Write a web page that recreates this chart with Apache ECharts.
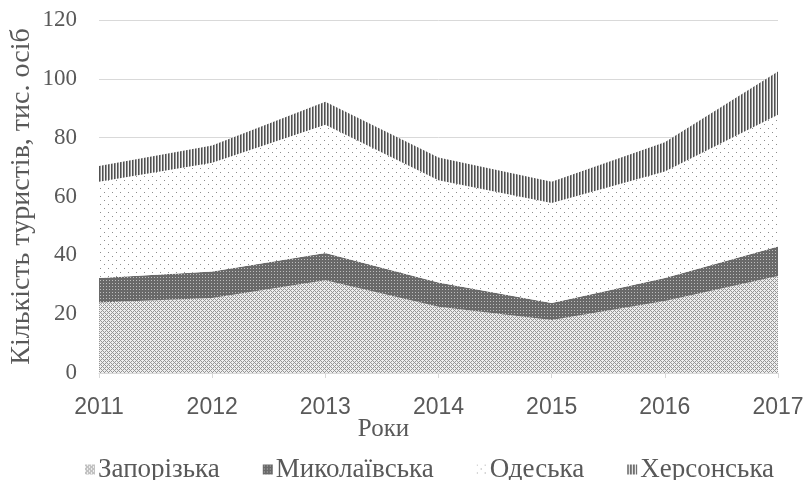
<!DOCTYPE html>
<html>
<head>
<meta charset="utf-8">
<script src="https://cdn.jsdelivr.net/npm/echarts@6/dist/echarts.min.js"></script>
<style>
html,body{margin:0;padding:0;background:#fff;}
#main{width:809px;height:480px;}
</style>
</head>
<body>
<div id="main"></div>
<script>
// ---- data ----
const years = ['2011', '2012', '2013', '2014', '2015', '2016', '2017'];
const zaporizka = [24, 25.5, 31.5, 22.5, 18, 24.5, 33];
const mykolaivska = [8.3, 9, 9.3, 8.3, 5.8, 7.8, 10];
const odeska = [32.7, 37, 43.6, 34.7, 34, 36.2, 44.8];
const khersonska = [5.4, 5.8, 7.8, 7.8, 7.2, 9.9, 14.7];
const seriesNames = ['Запорізька', 'Миколаївська', 'Одеська', 'Херсонська'];
const yTicks = [0, 20, 40, 60, 80, 100, 120];

// ---- pattern fills ----
function makePattern(w, h, fn) {
  const c = document.createElement('canvas');
  c.width = w; c.height = h;
  const ctx = c.getContext('2d');
  const img = ctx.createImageData(w, h);
  for (let y = 0; y < h; y++) {
    for (let x = 0; x < w; x++) {
      const v = fn(x, y);
      const i = (y * w + x) * 4;
      img.data[i] = v; img.data[i + 1] = v; img.data[i + 2] = v; img.data[i + 3] = 255;
    }
  }
  ctx.putImageData(img, 0, 0);
  return { image: c, repeat: 'repeat' };
}
const patZap = makePattern(4, 4, (x, y) => ((x + y) % 4 === 0 || (x - y + 4) % 4 === 0) ? 150 : 238);
const patMyk = makePattern(3, 3, (x, y) => (x === 1 && y === 1) ? 190 : 105);
const patOde = makePattern(8, 8, (x, y) => ((x === 0 && y === 0) || (x === 4 && y === 4)) ? 140 : 255);
const patKhe = makePattern(3, 1, (x) => x === 0 ? 80 : (x === 1 ? 150 : 245));
const patterns = [patZap, patMyk, patOde, patKhe];
const values = [zaporizka, mykolaivska, odeska, khersonska];

const chart = echarts.init(document.getElementById('main'), null, { renderer: 'canvas' });
chart.setOption({
  animation: false,
  backgroundColor: '#fff',
  grid: { left: 99, right: 31, top: 20, bottom: 107, containLabel: false },
  legend: {
    top: 451,
    left: 80,
    icon: 'rect',
    itemWidth: 10,
    itemHeight: 10,
    itemGap: 43,
    textStyle: { fontFamily: 'Liberation Serif', fontSize: 27, color: '#595959', padding: [0, 0, 0, -2] },
    data: seriesNames.map((n, i) => ({ name: n, itemStyle: { color: patterns[i] } }))
  },
  xAxis: {
    type: 'category',
    data: years,
    boundaryGap: false,
    name: 'Роки',
    nameLocation: 'middle',
    nameGap: 44,
    nameMoveOverlap: false,
    nameTextStyle: { fontFamily: 'Liberation Serif', fontSize: 25, color: '#595959', padding: [0, 110, 0, 0] },
    axisLine: { lineStyle: { color: '#d9d9d9', width: 1 } },
    axisTick: { show: true, length: 5, lineStyle: { color: '#d9d9d9' } },
    axisLabel: { fontFamily: 'Liberation Sans', fontSize: 23, color: '#595959', margin: 23 },
    splitLine: { show: false }
  },
  yAxis: {
    type: 'value',
    min: 0,
    max: 120,
    interval: 20,
    name: 'Кількість туристів, тис. осіб',
    nameLocation: 'middle',
    nameGap: 63,
    nameMoveOverlap: false,
    nameTextStyle: { fontFamily: 'Liberation Serif', fontSize: 28, color: '#595959' },
    axisLine: { show: false },
    axisTick: { show: false },
    axisLabel: {
      fontFamily: 'Liberation Serif', fontSize: 23, color: '#595959', margin: 22,
      formatter: v => yTicks.includes(v) ? String(v) : ''
    },
    splitLine: { lineStyle: { color: '#d9d9d9', width: 1 } }
  },
  series: seriesNames.map((n, i) => ({
    name: n,
    type: 'line',
    stack: 'total',
    data: values[i],
    symbol: 'none',
    showSymbol: false,
    lineStyle: { width: 0 },
    itemStyle: { color: patterns[i] },
    areaStyle: { color: patterns[i], opacity: 1 },
    emphasis: { disabled: true }
  }))
});
</script>
</body>
</html>
